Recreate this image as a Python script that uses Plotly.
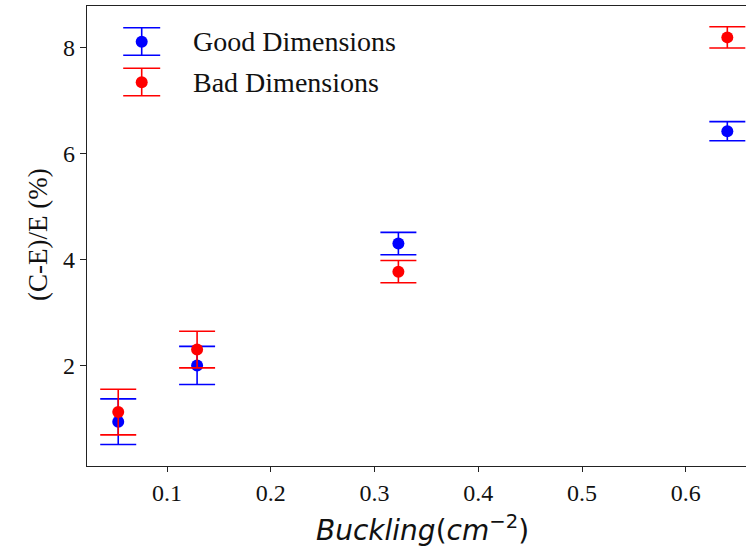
import plotly.graph_objects as go

# ---- data ----
buckling = [0.053, 0.129, 0.323, 0.640]
good_vals = [0.95, 2.01, 4.31, 6.43]
good_err = [0.43, 0.36, 0.21, 0.18]
bad_vals = [1.13, 2.31, 3.78, 8.20]
bad_err = [0.43, 0.345, 0.21, 0.20]
x_ticks = [0.1, 0.2, 0.3, 0.4, 0.5, 0.6]
y_ticks = [2, 4, 6, 8]
series_names = ["Good Dimensions", "Bad Dimensions"]

BLUE = "#0000ff"
RED = "#ff0000"
W, H = 746, 549
L, T = 87, 6
B = 549 - 466
PW, PH = W - L, H - T - B

fig = go.Figure()
for name, vals, errs, col in [(series_names[0], good_vals, good_err, BLUE),
                              (series_names[1], bad_vals, bad_err, RED)]:
    fig.add_trace(go.Scatter(
        x=buckling, y=vals, mode="markers", name=name,
        marker=dict(color=col, size=12),
        error_y=dict(type="data", array=errs, visible=True, color=col,
                     thickness=1.6, width=18),
        showlegend=False,
    ))

def px2paper(px, py):
    return (px - L) / PW, 1 - (py - T) / PH

shapes = []
annotations = []
for i, (name, col) in enumerate([(series_names[0], BLUE), (series_names[1], RED)]):
    cy = 41.7 + i * 40.6
    cx = 141.7
    top, bot = cy - 14, cy + 13.5
    x0, _ = px2paper(cx - 18.5, 0)
    x1, _ = px2paper(cx + 18.5, 0)
    xc, yt = px2paper(cx, top)
    _, yb = px2paper(cx, bot)
    for yy in (yt, yb):
        shapes.append(dict(type="line", xref="paper", yref="paper", x0=x0, x1=x1,
                           y0=yy, y1=yy, line=dict(color=col, width=1.6)))
    shapes.append(dict(type="line", xref="paper", yref="paper", x0=xc, x1=xc,
                       y0=yt, y1=yb, line=dict(color=col, width=1.6)))
    cx0, cy0 = px2paper(cx - 6, cy - 6)
    cx1, cy1 = px2paper(cx + 6, cy + 6)
    shapes.append(dict(type="circle", xref="paper", yref="paper", x0=cx0, x1=cx1,
                       y0=cy1, y1=cy0, fillcolor=col, line=dict(color=col, width=0)))
    tx, ty = px2paper(191, cy)
    annotations.append(dict(text=name, xref="paper", yref="paper", x=tx, y=ty,
                            xanchor="left", yanchor="middle", showarrow=False,
                            font=dict(family="Liberation Serif", size=28, color="#111")))

# axis titles
ax, ay = px2paper(422, 528)
annotations.append(dict(text="<i>Buckling</i>(<i>cm</i><sup>−2</sup>)", xref="paper", yref="paper",
                        x=ax, y=ay, xanchor="center", yanchor="middle", showarrow=False,
                        font=dict(family="DejaVu Sans", size=28, color="#111")))
bx, by = px2paper(38, 235)
annotations.append(dict(text="(C-E)/E (%)", xref="paper", yref="paper",
                        x=bx, y=by, xanchor="center", yanchor="middle", showarrow=False,
                        textangle=-90,
                        font=dict(family="Liberation Serif", size=27, color="#111")))

fig.update_layout(
    width=W, height=H,
    margin=dict(l=L, r=0, t=T, b=B),
    plot_bgcolor="white", paper_bgcolor="white",
    shapes=shapes, annotations=annotations,
    font=dict(family="Liberation Serif", size=24, color="#111"),
    hovermode=False,
)
fig.update_xaxes(range=[0.0229, 0.658], tickvals=x_ticks,
                 ticktext=[f"{v:.1f}" for v in x_ticks],
                 showgrid=False, zeroline=False, showline=True, linecolor="#222",
                 linewidth=1.3, mirror=True, ticks="outside", ticklen=5,
                 tickcolor="#222", tickfont=dict(size=24))
fig.update_yaxes(range=[0.113, 8.792], tickvals=y_ticks,
                 ticktext=[str(v) for v in y_ticks],
                 showgrid=False, zeroline=False, showline=True, linecolor="#222",
                 linewidth=1.3, ticks="outside", ticklen=6,
                 tickcolor="#222", tickfont=dict(size=24))

fig.write_html("out.html", config={"displayModeBar": False},
               post_script="document.body.style.margin='0px';document.body.style.overflow='hidden';")
